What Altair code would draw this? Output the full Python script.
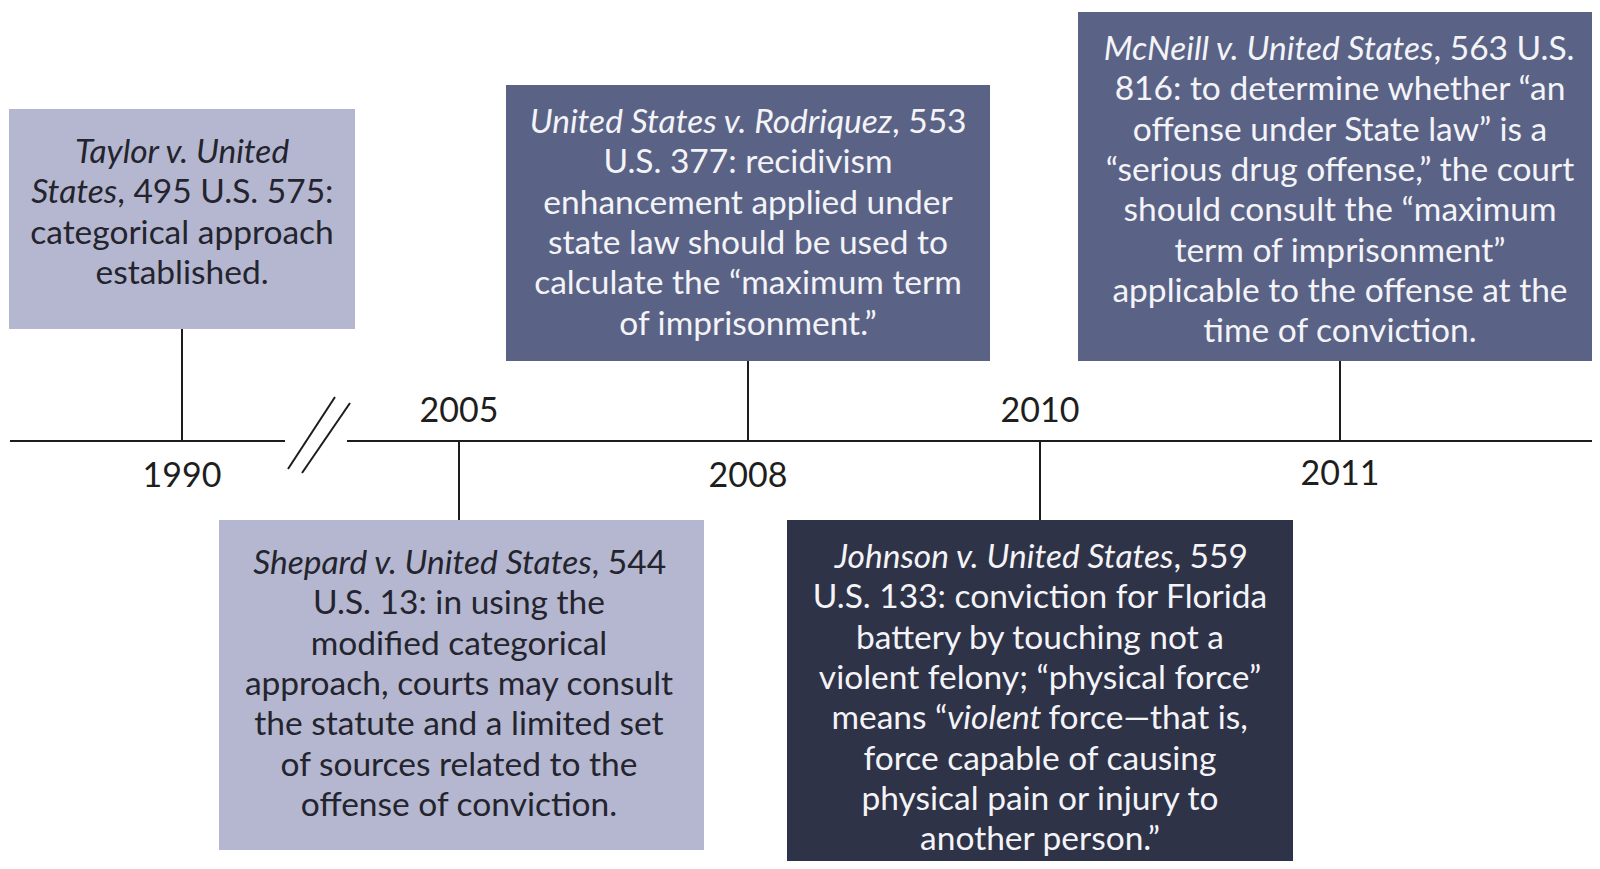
import altair as alt
import pandas as pd

# ---------------- data ----------------
years = ["1990", "2005", "2008", "2010", "2011"]
shade = ["light", "light", "medium", "dark", "medium"]
side = ["above", "below", "above", "below", "above"]

# *...* marks italic runs
case_lines = [
    ["*Taylor v. United*", "*States*, 495 U.S. 575:", "categorical approach", "established."],
    ["*Shepard v. United States*, 544", "U.S. 13: in using the", "modified categorical",
     "approach, courts may consult", "the statute and a limited set",
     "of sources related to the", "offense of conviction."],
    ["*United States v. Rodriquez*, 553", "U.S. 377: recidivism",
     "enhancement applied under", "state law should be used to",
     "calculate the \u201cmaximum term", "of imprisonment.\u201d"],
    ["*Johnson v. United States*, 559", "U.S. 133: conviction for Florida",
     "battery by touching not a", "violent felony; \u201cphysical force\u201d",
     "means \u201c*violent* force\u2014that is,", "force capable of causing",
     "physical pain or injury to", "another person.\u201d"],
    ["*McNeill v. United States*, 563 U.S.", "816: to determine whether \u201can",
     "offense under State law\u201d is a", "\u201cserious drug offense,\u201d the court",
     "should consult the \u201cmaximum", "term of imprisonment\u201d",
     "applicable to the offense at the", "time of conviction."],
]

# ---------------- layout (page pixels) ----------------
stem_x = [182, 459, 748, 1040, 1340]
box_left = [9, 219, 506, 787, 1078]
box_right = [355, 704, 990, 1293, 1600]
box_top = [109, 520, 85, 520, 12]
box_bottom = [329, 850, 361, 880, 361]
first_line_y = [153, 564, 123, 558, 50]
line_gap = 40.3
label_y = [477, 412, 477, 412, 475]
timeline_y = 441
# advance widths (px at 30px type) of the runs of mixed-style lines
seg_w30 = {(0, 1): [77, 193], (1, 0): [303.5, 66], (2, 0): [324, 66],
           (3, 0): [304, 65], (3, 4): [103, 90.5, 178.5], (4, 0): [294.5, 127]}
timeline_segments = [(10, 285), (347, 1600)]
break_slashes = [((288, 469), (335, 397)), ((302, 473), (350, 403))]

fill_of = {"light": "#b4b7cf", "medium": "#5a6386", "dark": "#2e3347"}
ink_of = {"light": "#24242e", "medium": "#f4f4f8", "dark": "#f4f4f8"}
LINE = "#1c1c1c"
FS = 33.5
SC = FS / 30.0

W, H = 1584, 853
X = alt.Scale(domain=[8, 8 + W], nice=False, zero=False)
Y = alt.Scale(domain=[8, 8 + H], reverse=True, nice=False, zero=False)

# boxes
boxes = pd.DataFrame({
    "year": years, "x0": box_left, "x1": box_right,
    "y0": box_top, "y1": box_bottom,
    "fill": [fill_of[s] for s in shade],
})

# rules: timeline, stems, break marks
rule_rows = []
for a, b in timeline_segments:
    rule_rows.append({"x0": a, "x1": b, "y0": timeline_y, "y1": timeline_y})
for i in range(len(years)):
    if side[i] == "above":
        rule_rows.append({"x0": stem_x[i], "x1": stem_x[i], "y0": box_bottom[i], "y1": timeline_y})
    else:
        rule_rows.append({"x0": stem_x[i], "x1": stem_x[i], "y0": timeline_y, "y1": box_top[i]})
for (p, q) in break_slashes:
    rule_rows.append({"x0": p[0], "x1": q[0], "y0": p[1], "y1": q[1]})
rules = pd.DataFrame(rule_rows)

# year labels
labels = pd.DataFrame({"year": years, "x": stem_x, "y": label_y})

# text segments
trows = []
for i, lines in enumerate(case_lines):
    for j, line in enumerate(lines):
        y = first_line_y[i] + j * line_gap
        parts = line.split("*")
        segs = [(p.strip(), k % 2 == 1) for k, p in enumerate(parts) if p.strip() != ""]
        ink = ink_of[shade[i]]
        if len(segs) == 1:
            trows.append({"x": stem_x[i], "y": y, "text": segs[0][0], "italic": segs[0][1],
                          "align": "center", "ink": ink})
        else:
            widths = [w * SC for w in seg_w30[(i, j)]]
            left = stem_x[i] - sum(widths) / 2.0
            b0 = left + widths[0]
            trows.append({"x": b0, "y": y, "text": segs[0][0], "italic": segs[0][1],
                          "align": "right", "ink": ink})
            pos = b0
            for k in range(1, len(segs)):
                t, it = segs[k]
                trows.append({"x": pos, "y": y, "text": t, "italic": it,
                              "align": "left", "ink": ink})
                pos += widths[k]
tdf = pd.DataFrame(trows)

layers = []
layers.append(
    alt.Chart(boxes).mark_rect().encode(
        x=alt.X("x0:Q", scale=X, axis=None), x2="x1:Q",
        y=alt.Y("y0:Q", scale=Y, axis=None), y2="y1:Q",
        color=alt.Color("fill:N", scale=None),
    )
)
layers.append(
    alt.Chart(rules).mark_rule(color=LINE, strokeWidth=2).encode(
        x=alt.X("x0:Q", scale=X, axis=None), x2="x1:Q",
        y=alt.Y("y0:Q", scale=Y, axis=None), y2="y1:Q",
    )
)
layers.append(
    alt.Chart(labels).mark_text(font="Lato", fontSize=34, color="#1e1e1e",
                                align="center", baseline="middle").encode(
        x=alt.X("x:Q", scale=X, axis=None),
        y=alt.Y("y:Q", scale=Y, axis=None),
        text="year:N",
    )
)
for (al, it), sub in tdf.groupby(["align", "italic"]):
    layers.append(
        alt.Chart(sub.reset_index(drop=True)).mark_text(
            font="Lato", fontSize=FS, align=al, baseline="middle",
            fontStyle="italic" if it else "normal",
        ).encode(
            x=alt.X("x:Q", scale=X, axis=None),
            y=alt.Y("y:Q", scale=Y, axis=None),
            text="text:N",
            color=alt.Color("ink:N", scale=None),
        )
    )

chart = alt.layer(*layers).properties(
    width=W, height=H, padding=0, autosize="none", background="white"
).configure_view(stroke=None)

chart.save("out.html", embed_options={"renderer": "svg", "actions": False})
